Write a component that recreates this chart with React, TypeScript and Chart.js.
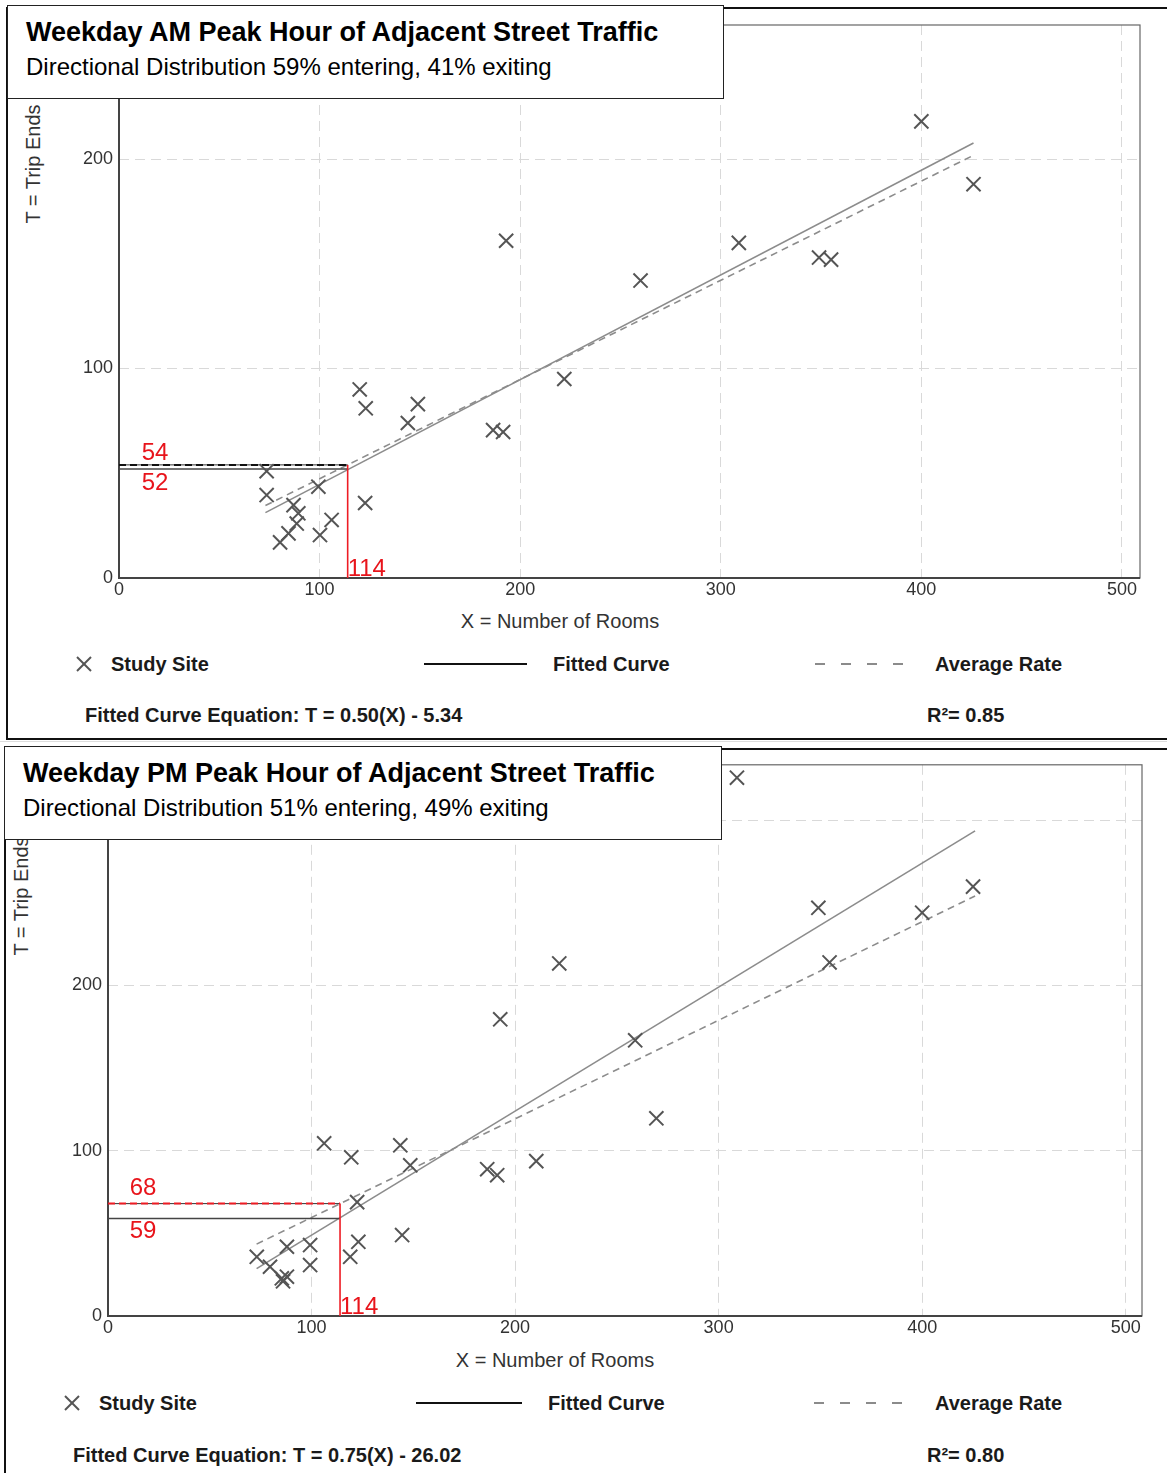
import React, { useEffect, useRef } from "react";
import { Chart, registerables } from "chart.js";

Chart.register(...registerables);

const FONT = '"Liberation Sans", Arial, Helvetica, sans-serif';

// ---------- AM data ----------
const amSiteX = [400, 426, 193, 309, 260, 349, 355, 222, 120, 123, 149, 144, 186.5, 191.5, 73.6, 73.6, 99.4, 122.7, 87, 89.4, 88.6, 84.5, 80.3, 100.2, 106];
const amSiteY = [218, 188, 161, 160, 142, 153, 152, 95, 90, 81, 83, 74, 70.6, 69.7, 51, 39.6, 43.6, 35.8, 34.8, 30.9, 26, 21.3, 17, 20.5, 27.7];
const amLineX = [73, 426];
const amFitY = [31.2, 207.7];
const amAvgY = [34.6, 201.8];
const amInput = 114;
const amFitAt = 52;
const amAvgAt = 54;
const amYTicks = [0, 100, 200];

// ---------- PM data ----------
const pmSiteX = [309, 425, 400, 349, 354.5, 221.7, 192.7, 259, 269.4, 106.2, 143.6, 119.5, 148.5, 186.3, 191.2, 210.4, 122.4, 144.5, 123, 119, 99.3, 99.3, 87.9, 73.1, 79.6, 85.4, 87.9, 86];
const pmSiteY = [325.7, 259.8, 244, 247, 213.9, 213.3, 179.5, 166.8, 119.6, 104.5, 103.3, 96, 91.2, 88.8, 85.2, 93.7, 68.9, 49, 44.9, 35.8, 42.9, 30.8, 41.9, 35.8, 29.8, 22.8, 23.8, 21];
const pmLineX = [73, 426];
const pmFitY = [28.7, 293.5];
const pmAvgY = [43.5, 254.1];
const pmInput = 114;
const pmFitAt = 59;
const pmAvgAt = 68;
const pmYTicks = [0, 100, 200, 300];

const xTicks = [0, 100, 200, 300, 400, 500];

const framePlugin = {
  id: "frame",
  beforeDatasetsDraw(chart: any) {
    const { ctx, chartArea: a } = chart;
    ctx.save();
    ctx.strokeStyle = "#666";
    ctx.lineWidth = 1.2;
    ctx.strokeRect(a.left, a.top, a.right - a.left, a.bottom - a.top);
    ctx.strokeStyle = "#444";
    ctx.lineWidth = 2;
    ctx.beginPath();
    ctx.moveTo(a.left, a.top);
    ctx.lineTo(a.left, a.bottom);
    ctx.lineTo(a.right, a.bottom);
    ctx.stroke();
    ctx.restore();
  },
};

const refLabelPlugin = {
  id: "refLabels",
  afterDatasetsDraw(chart: any, _args: any, opts: any) {
    const { ctx } = chart;
    const xs = chart.scales.x;
    const ys = chart.scales.y;
    ctx.save();
    ctx.fillStyle = "#e8141b";
    ctx.font = `24px ${FONT}`;
    ctx.textBaseline = "middle";
    (opts.items || []).forEach((it: any) => {
      ctx.textAlign = it.align || "center";
      ctx.fillText(it.text, xs.getPixelForValue(it.x) + (it.dx || 0), ys.getPixelForValue(it.y) + (it.dy || 0));
    });
    ctx.restore();
  },
};

function pts(xs: number[], ys: number[]) {
  return xs.map((x, i) => ({ x, y: ys[i] }));
}

type Cfg = {
  siteX: number[];
  siteY: number[];
  lineX: number[];
  fitY: number[];
  avgY: number[];
  input: number;
  fitAt: number;
  avgAt: number;
  xMax: number;
  yMax: number;
  yTicks: number[];
  yAxisWidth: number;
  xAxisHeight: number;
  pad: { top: number; right: number; left: number; bottom: number };
  avgColor: string;
  labelX: number;
  labelDy: number[];
  inputDy: number;
};

function ScatterChart({ cfg, width, height }: { cfg: Cfg; width: number; height: number }) {
  const ref = useRef<HTMLCanvasElement | null>(null);
  useEffect(() => {
    if (!ref.current) return;
    const gridColor = (c: any) => (c.tick && c.tick.value === 0 ? "rgba(0,0,0,0)" : "#d9d9d9");
    const chart = new Chart(ref.current, {
      type: "scatter",
      data: {
        datasets: [
          {
            label: "Study Site",
            data: pts(cfg.siteX, cfg.siteY),
            pointStyle: "crossRot",
            pointRadius: 10,
            pointBorderWidth: 2,
            borderColor: "#555",
            backgroundColor: "#555",
            showLine: false,
          } as any,
          {
            label: "Input vertical",
            data: pts([cfg.input, cfg.input], [0, cfg.avgAt]),
            showLine: true,
            borderColor: "#ee1c24",
            borderWidth: 1.6,
            pointRadius: 0,
          },
          {
            label: "Average at input",
            data: pts([0, cfg.input], [cfg.avgAt, cfg.avgAt]),
            showLine: true,
            borderColor: cfg.avgColor,
            borderDash: [7, 4],
            borderWidth: 2,
            pointRadius: 0,
          },
          {
            label: "Average at input base",
            data: pts([0, cfg.input], [cfg.avgAt, cfg.avgAt]),
            showLine: true,
            borderColor: "#333",
            borderWidth: 1,
            pointRadius: 0,
          },
          {
            label: "Fit at input",
            data: pts([0, cfg.input], [cfg.fitAt, cfg.fitAt]),
            showLine: true,
            borderColor: "#444",
            borderWidth: 1.5,
            pointRadius: 0,
          },
          {
            label: "Fitted Curve",
            data: pts(cfg.lineX, cfg.fitY),
            showLine: true,
            borderColor: "#8c8c8c",
            borderWidth: 1.6,
            pointRadius: 0,
          },
          {
            label: "Average Rate",
            data: pts(cfg.lineX, cfg.avgY),
            showLine: true,
            borderColor: "#8c8c8c",
            borderDash: [7, 5],
            borderWidth: 1.6,
            pointRadius: 0,
          },
        ],
      },
      options: {
        animation: false,
        responsive: false,
        devicePixelRatio: 1,
        layout: { padding: cfg.pad },
        plugins: {
          legend: { display: false },
          tooltip: { enabled: false },
          refLabels: {
            items: [
              { text: String(cfg.avgAt), x: cfg.labelX, y: cfg.avgAt, dy: cfg.labelDy[0] },
              { text: String(cfg.fitAt), x: cfg.labelX, y: cfg.fitAt, dy: cfg.labelDy[1] },
              { text: String(cfg.input), x: cfg.input, y: 0, dx: 0, dy: cfg.inputDy, align: "left" },
            ],
          },
        } as any,
        scales: {
          x: {
            type: "linear",
            min: 0,
            max: cfg.xMax,
            afterFit: (s: any) => {
              s.height = cfg.xAxisHeight;
            },
            afterBuildTicks: (s: any) => {
              s.ticks = xTicks.map((v) => ({ value: v }));
            },
            ticks: {
              autoSkip: false,
              maxRotation: 0,
              padding: 1,
              color: "#333",
              font: { family: FONT, size: 18 },
            },
            grid: { color: gridColor, lineWidth: 1, drawTicks: false },
            border: { display: false, dash: [10, 6] },
          },
          y: {
            type: "linear",
            min: 0,
            max: cfg.yMax,
            afterFit: (s: any) => {
              s.width = cfg.yAxisWidth;
            },
            afterBuildTicks: (s: any) => {
              s.ticks = cfg.yTicks.map((v) => ({ value: v }));
            },
            ticks: {
              autoSkip: false,
              padding: 6,
              color: "#333",
              font: { family: FONT, size: 18 },
            },
            grid: { color: gridColor, lineWidth: 1, drawTicks: false },
            border: { display: false, dash: [10, 6] },
          },
        },
      } as any,
      plugins: [framePlugin, refLabelPlugin],
    });
    return () => chart.destroy();
  }, [cfg]);
  return <canvas ref={ref} width={width} height={height} style={{ width, height, display: "block" }} />;
}

const amCfg: Cfg = {
  siteX: amSiteX,
  siteY: amSiteY,
  lineX: amLineX,
  fitY: amFitY,
  avgY: amAvgY,
  input: amInput,
  fitAt: amFitAt,
  avgAt: amAvgAt,
  xMax: 509,
  yMax: 264,
  yTicks: amYTicks,
  yAxisWidth: 111,
  xAxisHeight: 60,
  pad: { top: 17, right: 18, left: 0, bottom: 0 },
  avgColor: "#111",
  labelX: 18,
  labelDy: [-12, 14],
  inputDy: -9,
};

const pmCfg: Cfg = {
  siteX: pmSiteX,
  siteY: pmSiteY,
  lineX: pmLineX,
  fitY: pmFitY,
  avgY: pmAvgY,
  input: pmInput,
  fitAt: pmFitAt,
  avgAt: pmAvgAt,
  xMax: 508,
  yMax: 333.5,
  yTicks: pmYTicks,
  yAxisWidth: 100,
  xAxisHeight: 62,
  pad: { top: 16, right: 16, left: 0, bottom: 0 },
  avgColor: "#ee1c24",
  labelX: 17.2,
  labelDy: [-15, 13],
  inputDy: -9,
};

const abs = (s: React.CSSProperties): React.CSSProperties => ({ position: "absolute", ...s });

function TitleBox({ left, top, width, height, title, sub }: any) {
  return (
    <div
      style={abs({
        left,
        top,
        width,
        height,
        boxSizing: "border-box",
        border: "1px solid #222",
        background: "#fff",
        zIndex: 5,
      })}
    >
      <div style={abs({ left: 18, top: 11, fontSize: 27, fontWeight: "bold", lineHeight: "30px", whiteSpace: "nowrap", color: "#000" })}>
        {title}
      </div>
      <div style={abs({ left: 18, top: 47, fontSize: 24, lineHeight: "28px", whiteSpace: "nowrap", color: "#000" })}>{sub}</div>
    </div>
  );
}

function Legend({ y, markerX, studyX, lineL, lineW, fitX, dashL, avgX, eqY, eqX, eq, r2, titleCx, titleCy }: any) {
  const txt = (left: number, cy: number, t: string) => (
    <div style={abs({ left, top: cy - 12, fontSize: 20, fontWeight: "bold", lineHeight: "24px", whiteSpace: "nowrap", color: "#1a1a1a" })}>{t}</div>
  );
  return (
    <>
      <div
        style={abs({
          left: titleCx,
          top: titleCy - 12,
          transform: "translateX(-50%)",
          fontSize: 20,
          lineHeight: "24px",
          whiteSpace: "nowrap",
          color: "#333",
        })}
      >
        X = Number of Rooms
      </div>
      <svg style={abs({ left: markerX - 9, top: y - 9 })} width={18} height={18}>
        <line x1={2} y1={2} x2={16} y2={16} stroke="#555" strokeWidth={2} />
        <line x1={16} y1={2} x2={2} y2={16} stroke="#555" strokeWidth={2} />
      </svg>
      {txt(studyX, y, "Study Site")}
      <div style={abs({ left: lineL, top: y - 1, width: lineW, height: 2, background: "#111" })} />
      {txt(fitX, y, "Fitted Curve")}
      <svg style={abs({ left: dashL, top: y - 2 })} width={90} height={4}>
        <line x1={0} y1={2} x2={90} y2={2} stroke="#666" strokeWidth={1.5} strokeDasharray="10 16" />
      </svg>
      {txt(avgX, y, "Average Rate")}
      {txt(eqX, eqY, eq)}
      {txt(927, eqY, r2)}
    </>
  );
}

function YTitle({ cx, cy }: { cx: number; cy: number }) {
  return (
    <div
      style={abs({
        left: cx,
        top: cy,
        transform: "translate(-50%, -50%) rotate(-90deg)",
        fontSize: 20,
        lineHeight: "24px",
        whiteSpace: "nowrap",
        color: "#333",
        zIndex: 1,
      })}
    >
      T = Trip Ends
    </div>
  );
}

export default function App() {
  return (
    <div style={abs({ left: 0, top: 0, width: 1167, height: 1473, overflow: "hidden", background: "#fff", fontFamily: FONT })}>
      {/* AM panel */}
      <div style={abs({ left: 6, top: 7, width: 1200, height: 733, boxSizing: "border-box", border: "2px solid #111" })} />
      <div style={abs({ left: 0, top: 741, width: 1167, height: 1, background: "#ddd" })} />
      <YTitle cx={33} cy={164} />
      <div style={abs({ left: 8, top: 8, zIndex: 2 })}>
        <ScatterChart cfg={amCfg} width={1150} height={630} />
      </div>
      <TitleBox
        left={7}
        top={5}
        width={717}
        height={94}
        title="Weekday AM Peak Hour of Adjacent Street Traffic"
        sub="Directional Distribution 59% entering, 41% exiting"
      />
      <Legend
        titleCx={560}
        titleCy={621}
        y={664}
        markerX={84}
        studyX={111}
        lineL={424}
        lineW={103}
        fitX={553}
        dashL={815}
        avgX={935}
        eqY={715}
        eqX={85}
        eq="Fitted Curve Equation: T = 0.50(X) - 5.34"
        r2="R²= 0.85"
      />

      {/* PM panel */}
      <div style={abs({ left: 4, top: 748, width: 1200, height: 800, boxSizing: "border-box", border: "2px solid #111" })} />
      <YTitle cx={21} cy={896} />
      <div style={abs({ left: 8, top: 748, zIndex: 2 })}>
        <ScatterChart cfg={pmCfg} width={1150} height={630} />
      </div>
      <TitleBox
        left={4}
        top={746}
        width={718}
        height={94}
        title="Weekday PM Peak Hour of Adjacent Street Traffic"
        sub="Directional Distribution 51% entering, 49% exiting"
      />
      <Legend
        titleCx={555}
        titleCy={1360}
        y={1403}
        markerX={72}
        studyX={99}
        lineL={416}
        lineW={106}
        fitX={548}
        dashL={814}
        avgX={935}
        eqY={1455}
        eqX={73}
        eq="Fitted Curve Equation: T = 0.75(X) - 26.02"
        r2="R²= 0.80"
      />
    </div>
  );
}
